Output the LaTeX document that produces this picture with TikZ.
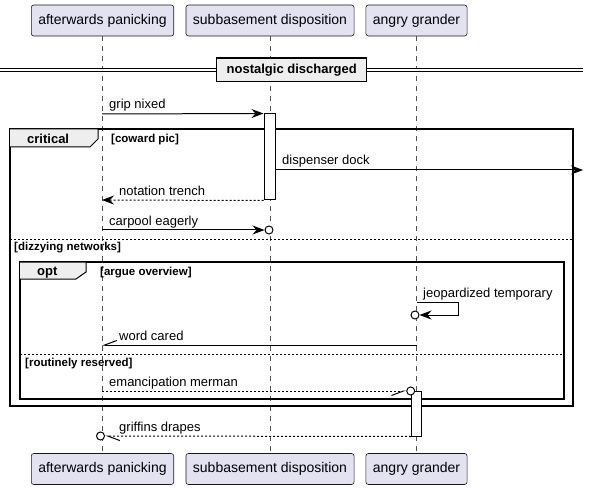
\documentclass[tikz,border=0pt]{standalone}
\usepackage{fontspec}
\setmainfont{Liberation Sans}
\usetikzlibrary{arrows.meta}
\definecolor{partfill}{HTML}{E2E2F0}
\definecolor{partline}{HTML}{181818}
\definecolor{tabfill}{HTML}{EEEEEE}

\begin{document}
\begin{tikzpicture}[x=1pt, y=-1pt,
    part/.style={draw=partline, line width=0.6pt, fill=partfill, rounded corners=2.5pt,
        minimum height=31pt, inner xsep=7pt, font=\fontsize{14}{16}\selectfont},
    life/.style={draw=partline!75, line width=0.6pt, dash pattern=on 5pt off 5pt},
    msg/.style={line width=1pt, -{Stealth[length=12pt, width=9pt, inset=4pt]}},
    ret/.style={msg, dash pattern=on 2pt off 2pt},
    barb/.style={line width=1pt, -{Straight Barb[harpoon, length=12pt, width=9pt]}},
    lbl/.style={anchor=base west, inner sep=0pt, font=\fontsize{13}{15}\selectfont},
    lolly/.style={circle, draw, line width=1pt, fill=white, minimum size=8pt, inner sep=0pt},
    actbox/.style={draw, line width=1pt, fill=white, minimum width=11pt, inner sep=0pt},
    frame/.style={draw, line width=1.6pt},
    tab/.style={draw, line width=1pt, fill=tabfill},
    tabtxt/.style={anchor=base west, inner sep=0pt, font=\bfseries\fontsize{13}{15}\selectfont},
    guard/.style={anchor=base west, inner sep=0pt, font=\bfseries\fontsize{11.5}{13}\selectfont},
    sep/.style={line width=0.8pt, dash pattern=on 2pt off 2pt}]
    \useasboundingbox (0,0) rectangle (589,489);

    \node[part] (apTop) at (102.5,20.5) {afterwards panicking};
    \node[part] (sdTop) at (270,20.5) {subbasement disposition};
    \node[part] (agTop) at (416.5,20.5) {angry grander};
    \node[part] (apBot) at (102.5,469) {afterwards panicking};
    \node[part] (sdBot) at (270,469) {subbasement disposition};
    \node[part] (agBot) at (416.5,469) {angry grander};
    \draw[life] (apTop) -- (apBot);
    \draw[life] (sdTop) -- (sdBot);
    \draw[life] (agTop) -- (agBot);

    \node[draw, line width=1.5pt, fill=tabfill, minimum width=150pt, minimum height=23.5pt,
        inner sep=0pt, font=\bfseries\fontsize{13}{15}\selectfont] (div) at (291.7,70) {nostalgic discharged};
    \draw[double, double distance=2.5pt, line width=0.9pt] (0,70) -- (div.west);
    \draw[double, double distance=2.5pt, line width=0.9pt] (div.east) -- (583,70);

    \draw[frame] (10,129) rectangle (573,406);
    \draw[tab] (10,129) -- (98,129) -- (98,139) -- (90,147) -- (10,147);
    \node[tabtxt] (tCrit) at (27,143.5) {critical};
    \node[guard] (gCoward) at (111,143) {[coward pic]};
    \draw[sep] (10,239) -- (573,239);
    \node[guard] (gDizzy) at (14,251) {[dizzying networks]};

    \draw[frame] (20,262) rectangle (564,399);
    \draw[tab] (20,262) -- (86,262) -- (86,272) -- (76,279) -- (20,279);
    \node[tabtxt] (tOpt) at (37,276) {opt};
    \node[guard] (gArgue) at (100,276) {[argue overview]};
    \draw[sep] (20,354) -- (564,354);
    \node[guard] (gRoutine) at (25,366) {[routinely reserved]};

    \node[actbox, minimum height=86pt] (act1) at (269.5,157) {};
    \node[actbox, minimum height=45pt, minimum width=10pt] (act2) at (416.7,413.5) {};
    \node[lolly] (c1) at (269,230) {};
    \node[lolly] (c2) at (415,315) {};
    \node[lolly] (c3) at (410.7,391) {};
    \node[lolly] (c4) at (100.5,436) {};

    \coordinate (grip) at (102,114);
    \coordinate (dock1) at (act1.east |- 0,170);
    \coordinate (dock2) at (583,170);
    \coordinate (trench) at (102,200);
    \coordinate (carpool) at (102,230);
    \coordinate (jeop) at (417,302);
    \coordinate (word1) at (417,345);
    \coordinate (word2) at (102,345);
    \coordinate (merman) at (102,391);

    \draw[msg] (grip) -- (act1.north west);
    \node[lbl] (lGrip) at (109,109) {grip nixed};
    \draw[msg] (dock1) -- (dock2);
    \node[lbl] (lDock) at (282,165) {dispenser dock};
    \draw[ret] (act1.south west) -- (trench);
    \node[lbl] (lTrench) at (119,195.5) {notation trench};
    \draw[msg] (carpool) -- (c1);
    \node[lbl] (lCarpool) at (109,225.5) {carpool eagerly};
    \draw[msg] (jeop) -- ++(41,0) |- (c2);
    \node[lbl] (lJeop) at (423,297.5) {jeopardized temporary};
    \draw[barb, -{Straight Barb[harpoon, swap, length=12pt, width=9pt]}] (word1) -- (word2);
    \node[lbl] (lWord) at (119,340.5) {word cared};
    \draw[barb, dash pattern=on 2pt off 2pt, -{Straight Barb[harpoon, swap, length=12pt, width=9pt]}] (merman) -- (c3);
    \node[lbl] (lMerman) at (109,386.5) {emancipation merman};
    \draw[barb, dash pattern=on 2pt off 2pt] (act2.south west) -- (c4);
    \node[lbl] (lGriffin) at (119,431.5) {griffins drapes};
\end{tikzpicture}
\end{document}
